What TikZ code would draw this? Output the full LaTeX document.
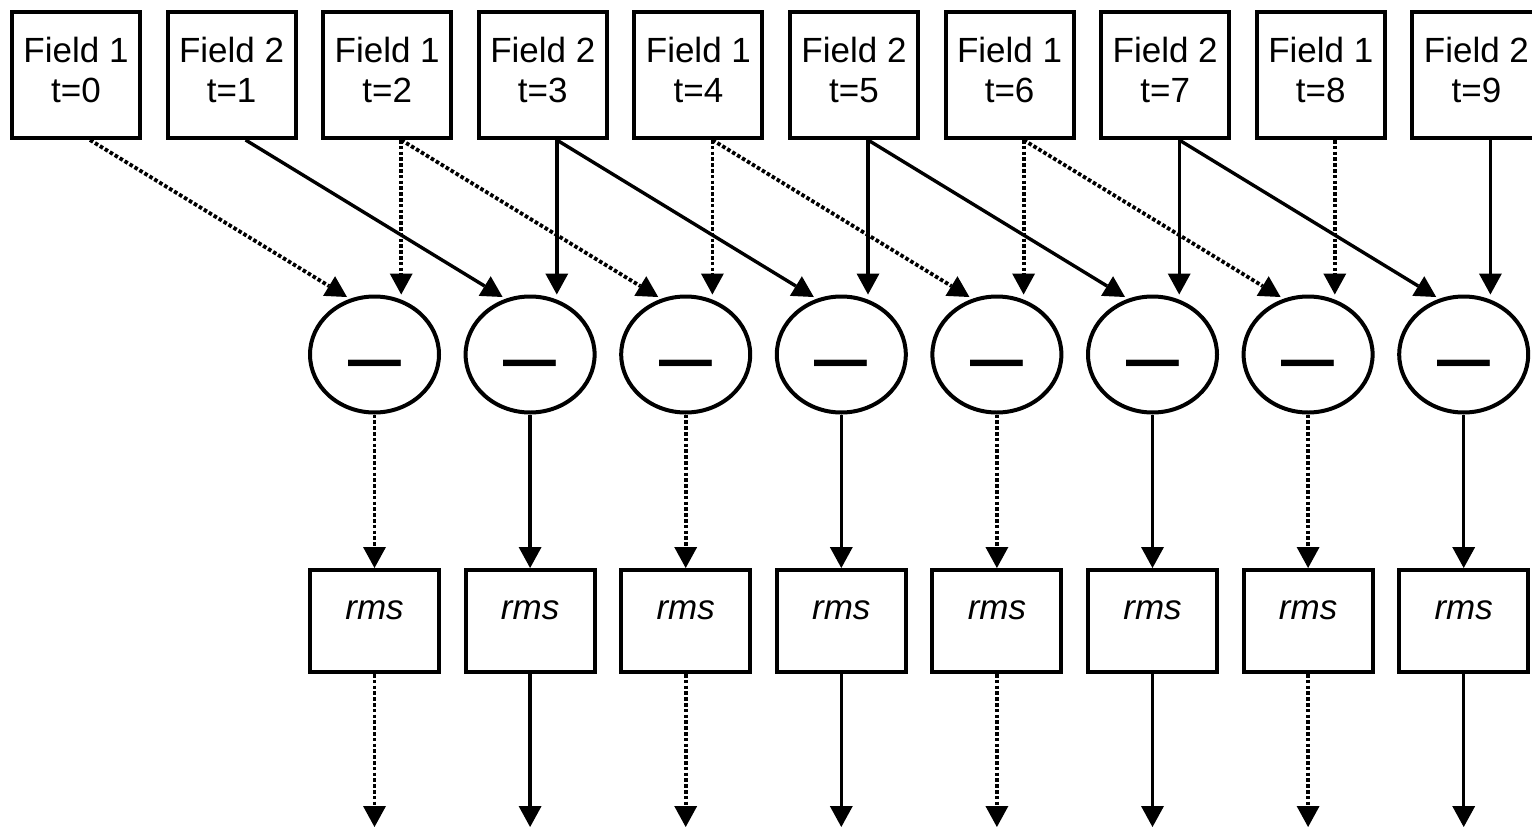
\documentclass[tikz,border=0pt]{standalone}
\usepackage{fontspec}
\setmainfont{Liberation Sans}
\usetikzlibrary{arrows.meta,shapes.geometric,calc}
\begin{document}
\begin{tikzpicture}[x=1pt,y=-1pt,
  fieldbox/.style={draw,line width=4pt,minimum width=128pt,minimum height=126pt,inner sep=0pt},
  fieldtext/.style={font=\fontsize{35}{40}\selectfont,align=center,inner sep=0pt},
  diffnode/.style={draw,ellipse,line width=4pt,minimum width=129pt,minimum height=116pt,inner sep=0pt},
  minussign/.style={font=\fontsize{95}{95}\selectfont,anchor=base,inner sep=0pt},
  rmsbox/.style={draw,line width=4pt,minimum width=129pt,minimum height=102pt,inner sep=0pt,
    font=\fontsize{35}{40}\selectfont\itshape,text height=18pt,text depth=22pt},
  link/.style={line width=3.4pt,-{Triangle[width=23pt,length=21pt,line width=0pt]}},
  dots/.style={link,line width=3.8pt,dash pattern=on 3.6pt off 2.2pt},
]
\useasboundingbox (0,0) rectangle (1532,827);
\foreach \i/\f in {0/1,1/2,2/1,3/2,4/1,5/2,6/1,7/2,8/1,9/2} {
  \node[fieldbox] (b\i) at ({76+155.6*\i},75) {};
  \node[fieldtext] (bt\i) at ({76+155.6*\i},70) {Field \f\\t=\i};
}
\foreach \j in {0,...,7} {
  \node[diffnode] (e\j) at ({374.5+155.6*\j},354.5) {};
  \node[minussign] (m\j) at ({374.5+155.6*\j},387) {–};
  \node[rmsbox] (r\j) at ({374.5+155.6*\j},621) {rms};
  \coordinate (o\j) at ({374.5+155.6*\j},827);
}
\foreach \j in {0,2,4,6} {
  \pgfmathtruncatemacro{\k}{\j+2}
  \draw[dots] ([xshift=14pt]b\j.south) -- ($(e\j.center)+(-27.5,-57.5)$);
  \draw[dots] ([xshift=14pt]b\k.south) -- ([xshift=14pt]b\k.south |- e\j.north);
  \draw[dots] (e\j.south) -- (r\j.north);
  \draw[dots] (r\j.south) -- (o\j);
}
\foreach \j in {1,3,5,7} {
  \pgfmathtruncatemacro{\k}{\j+2}
  \draw[link] ([xshift=14pt]b\j.south) -- ($(e\j.center)+(-27.5,-57.5)$);
  \draw[link] ([xshift=14pt]b\k.south) -- ([xshift=14pt]b\k.south |- e\j.north);
  \draw[link] (e\j.south) -- (r\j.north);
  \draw[link] (r\j.south) -- (o\j);
}
\end{tikzpicture}
\end{document}
